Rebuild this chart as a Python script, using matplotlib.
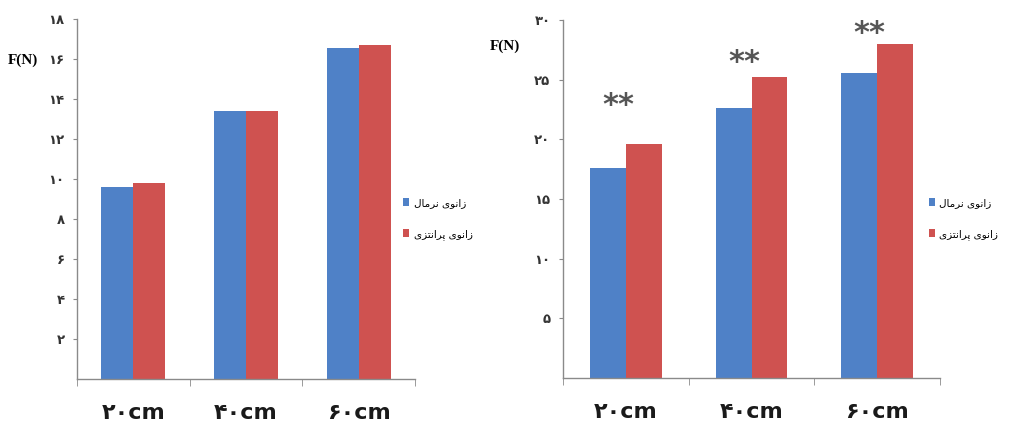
import matplotlib
matplotlib.use("Agg")
import matplotlib.pyplot as plt
import numpy as np
from matplotlib.patches import Patch

# ---------------- data ----------------
categories = ['۲۰cm', '۴۰cm', '۶۰cm']
series_names = ['زانوی نرمال', 'زانوی پرانتزی']

left_normal = [9.6, 13.4, 16.55]
left_varus = [9.8, 13.4, 16.7]

right_normal = [17.6, 22.6, 25.6]
right_varus = [19.6, 25.2, 28.0]

left_yticks = [2, 4, 6, 8, 10, 12, 14, 16, 18]
right_yticks = [5, 10, 15, 20, 25, 30]

star_text = '**'
star_levels = [23.3, 26.9, 29.3]

blue = '#4f81c7'
red = '#cf5250'

# ---------------- helpers ----------------
FORMS = {
    'ز': ('\uFEAF', '\uFEB0', None, None),
    'ا': ('\uFE8D', '\uFE8E', None, None),
    'ن': ('\uFEE5', '\uFEE6', '\uFEE7', '\uFEE8'),
    'و': ('\uFEED', '\uFEEE', None, None),
    'ی': ('\uFBFC', '\uFBFD', '\uFBFE', '\uFBFF'),
    'ر': ('\uFEAD', '\uFEAE', None, None),
    'م': ('\uFEE1', '\uFEE2', '\uFEE3', '\uFEE4'),
    'ل': ('\uFEDD', '\uFEDE', '\uFEDF', '\uFEE0'),
    'پ': ('\uFB56', '\uFB57', '\uFB58', '\uFB59'),
    'ت': ('\uFE95', '\uFE96', '\uFE97', '\uFE98'),
}


def shape(text):
    """Minimal Persian shaping + RTL reordering for display."""
    out = []
    for i, ch in enumerate(text):
        if ch not in FORMS:
            out.append(ch)
            continue
        prev = text[i - 1] if i > 0 else None
        nxt = text[i + 1] if i + 1 < len(text) else None
        jp = prev in FORMS and FORMS[prev][2] is not None
        jn = nxt in FORMS and FORMS[ch][2] is not None
        iso, fin, ini, med = FORMS[ch]
        if jp and jn:
            f = med
        elif jp:
            f = fin
        elif jn:
            f = ini
        else:
            f = iso
        out.append(f)
    return ''.join(reversed(out))


def fa(n):
    return str(n).translate(str.maketrans('0123456789', '۰۱۲۳۴۵۶۷۸۹'))


# ---------------- figure ----------------
fig = plt.figure(figsize=(10.17, 4.34), dpi=100)
W, H = 1017, 434

ax1 = fig.add_axes([77 / W, 1 - 379 / H, 338 / W, 360 / H])
ax2 = fig.add_axes([563 / W, 1 - 378 / H, 377 / W, 358 / H])

x = np.arange(len(categories))
w = 0.284

for ax, nvals, vvals, yt, ymax, legx in [
        (ax1, left_normal, left_varus, left_yticks, 18, 0.965),
        (ax2, right_normal, right_varus, right_yticks, 30, 0.97)]:
    ax.bar(x - w / 2, nvals, w, color=blue, label=shape(series_names[0]))
    ax.bar(x + w / 2, vvals, w, color=red, label=shape(series_names[1]))
    ax.set_xlim(-0.5, 2.5)
    ax.set_ylim(0, ymax)
    for s in ['top', 'right']:
        ax.spines[s].set_visible(False)
    for s in ['left', 'bottom']:
        ax.spines[s].set_color('#8a8a8a')
        ax.spines[s].set_linewidth(1.0)
    ax.set_yticks(yt)
    ax.set_yticklabels([fa(v) for v in yt], fontsize=9.5, fontweight='bold',
                       color='#333333')
    ax.tick_params(axis='y', length=3, color='#8a8a8a', pad=6)
    ax.set_xticks(x)
    ax.set_xticklabels(categories, fontsize=16, fontweight='bold',
                       color='#1a1a1a')
    ax.tick_params(axis='x', which='major', length=0, pad=17)
    ax.set_xticks([-0.5, 0.5, 1.5, 2.5], minor=True)
    ax.tick_params(axis='x', which='minor', length=5, color='#8a8a8a')
    handles = [Patch(facecolor=blue), Patch(facecolor=red)]
    ax.legend(handles, [shape(s) for s in series_names], loc='center left',
              bbox_to_anchor=(legx, 0.445), frameon=False, fontsize=7.5,
              handlelength=0.6, handleheight=0.8, handletextpad=0.4,
              labelspacing=2.0, borderaxespad=0, borderpad=0)

# significance stars
for i, lvl in enumerate(star_levels):
    ax2.annotate(star_text, (x[i] - 0.06, lvl), xytext=(0, -4),
                 textcoords='offset points', ha='center', va='center',
                 fontsize=22, fontweight='bold', color='#555555')

fig.text(8 / W, 1 - 60 / H, 'F(N)', family='Liberation Serif',
         fontweight='bold', fontsize=11, va='center', ha='left')
fig.text(490 / W, 1 - 46 / H, 'F(N)', family='Liberation Serif',
         fontweight='bold', fontsize=11, va='center', ha='left')

fig.savefig('out.png', dpi=100)
